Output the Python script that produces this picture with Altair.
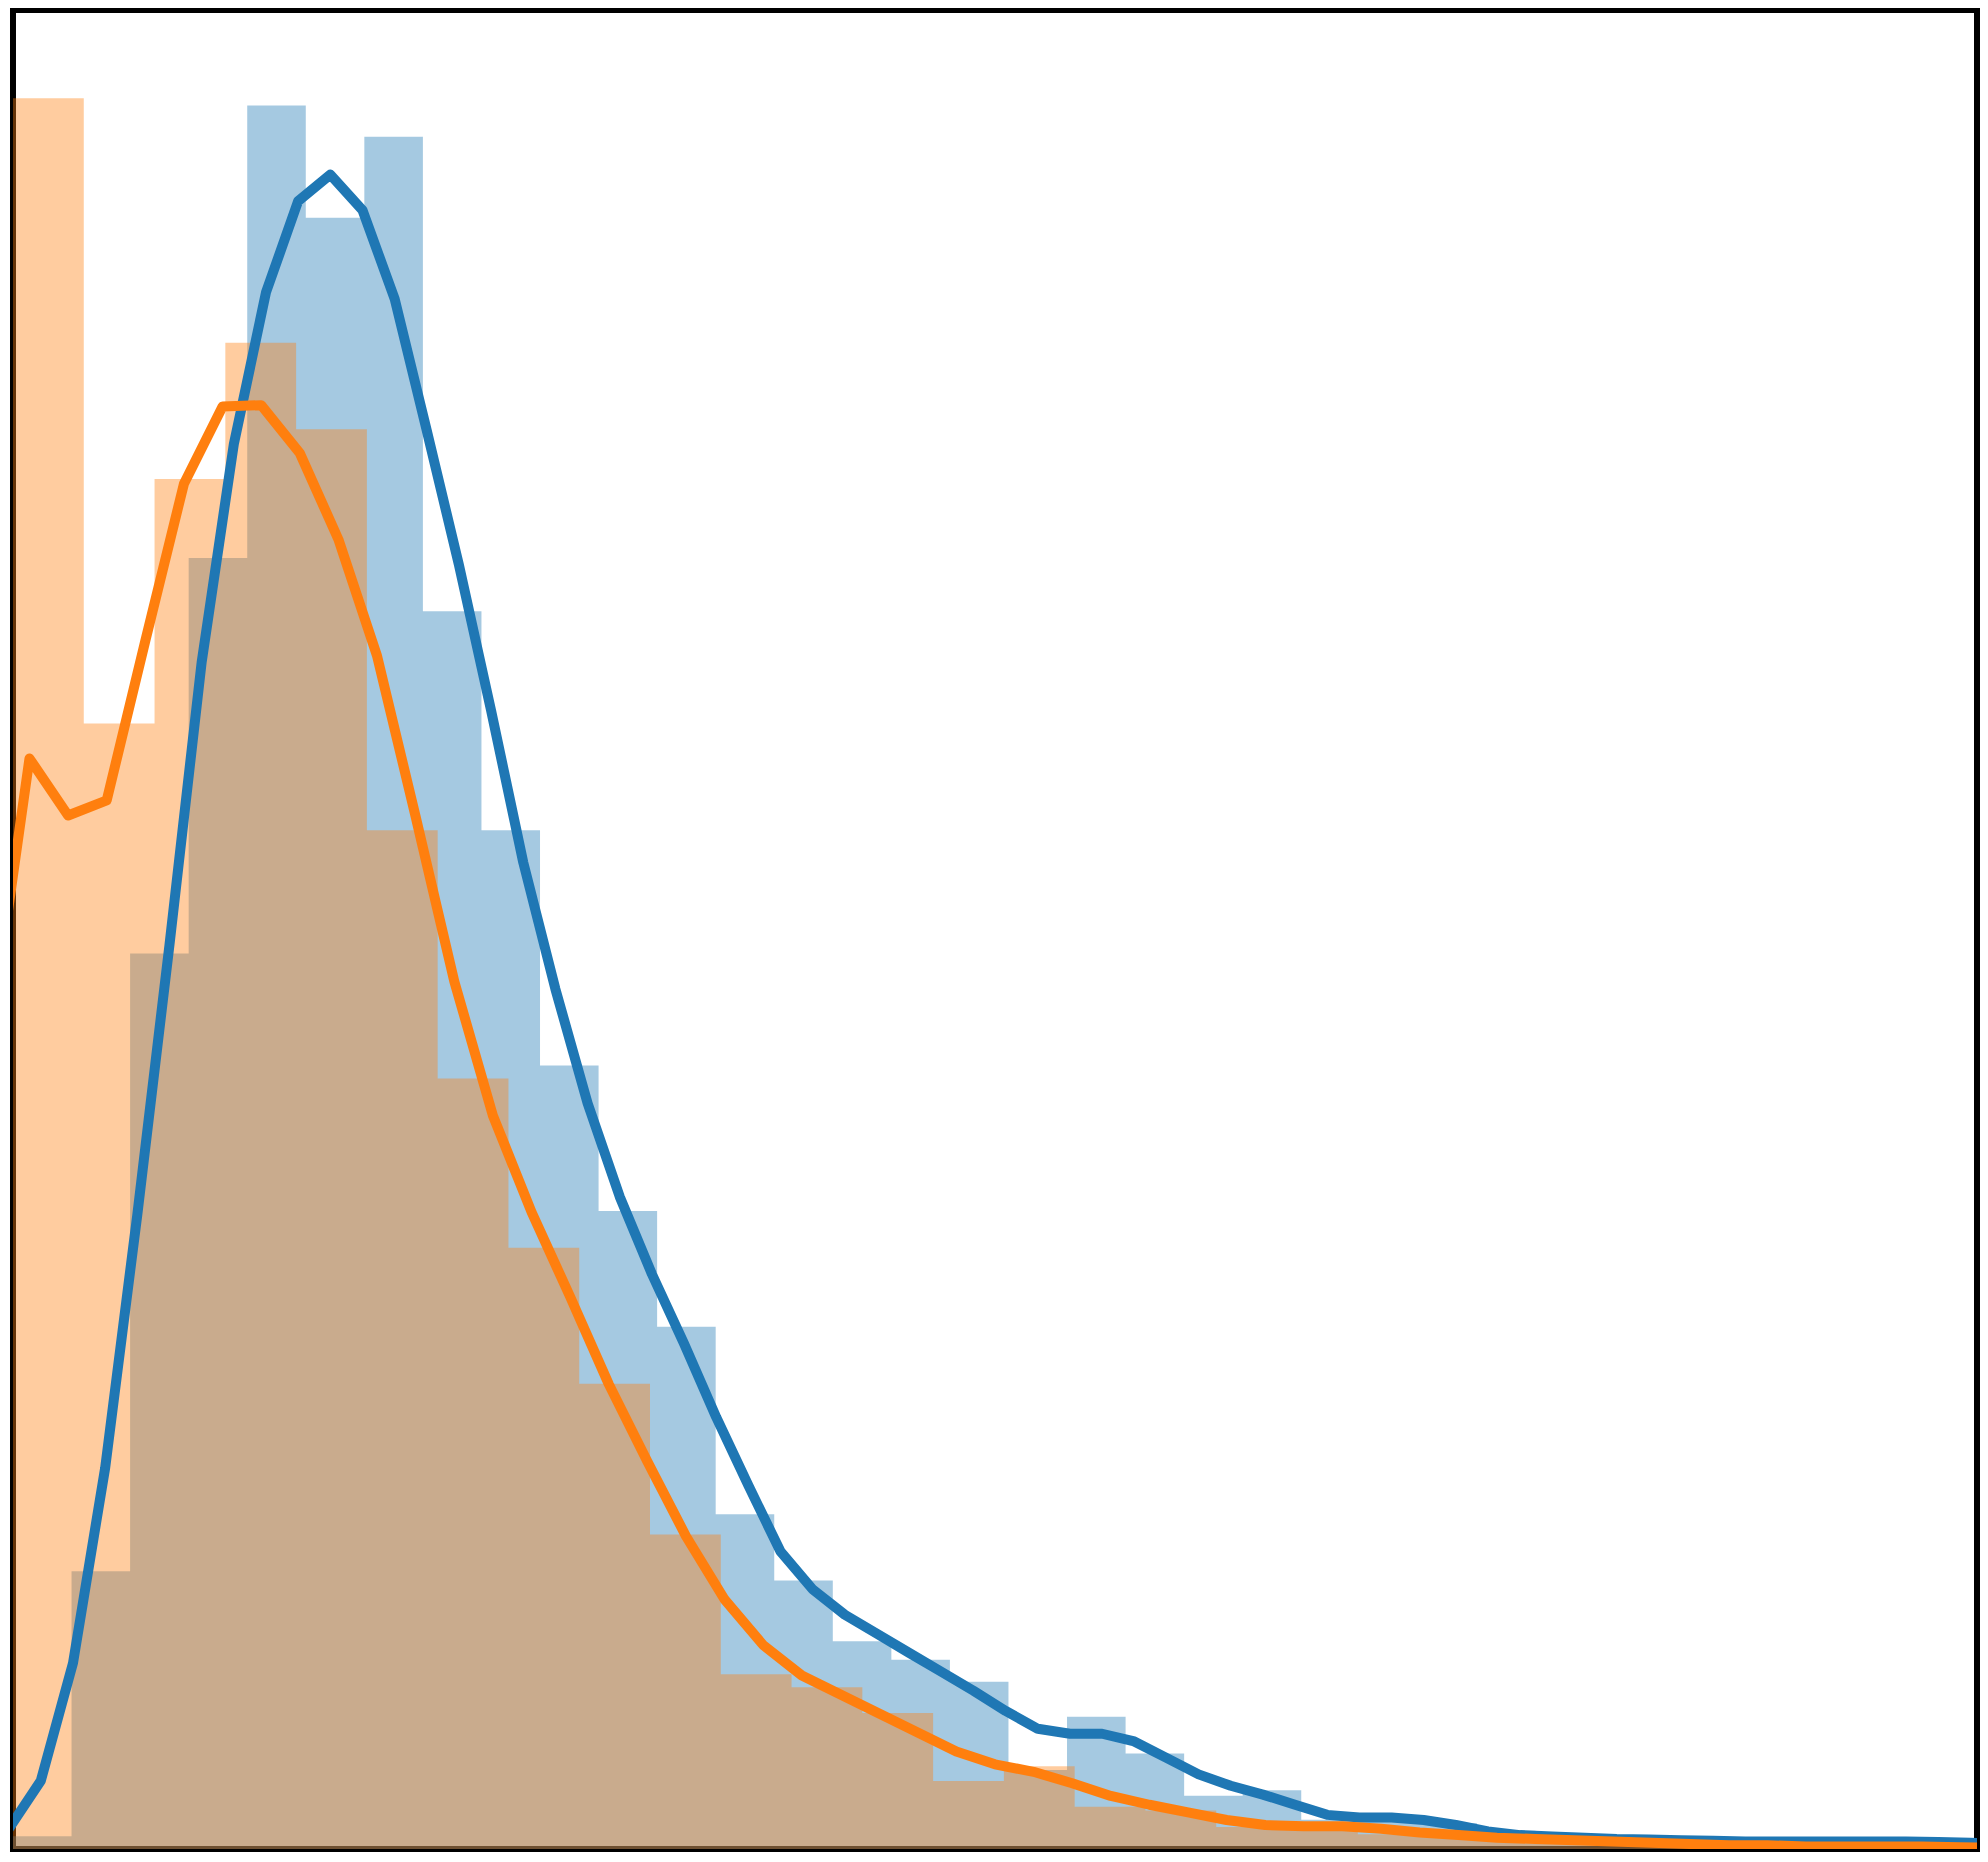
import altair as alt
import pandas as pd

BLUE = "#1f77b4"
ORANGE = "#ff7f0e"

# histogram bins (x in units of the blue bin width, starting at the left frame edge)
blue_bin_width = 1.0
orange_bin_width = 1.2087
blue_hist = [0.7, 15.1, 48.7, 70.2, 94.8, 88.7, 93.1, 67.3, 55.4, 42.6, 34.7, 28.4,
             18.2, 14.6, 11.3, 10.3, 9.1, 4.3, 7.2, 5.2, 2.9, 3.2, 1.6, 1.5, 1.4,
             1.0, 0.5, 0.3, 0.3, 0.2, 0.1, 0.1, 0.1, 0.1]
orange_hist = [95.2, 61.2, 74.5, 81.9, 77.2, 55.4, 41.9, 32.7, 25.3, 17.1, 9.5, 8.8,
               7.4, 3.7, 4.5, 2.3, 2.1, 1.2, 1.1, 0.8, 0.6, 0.5, 0.3, 0.3, 0.2, 0.1,
               0.1, 0.1]

# density curves evaluated on a regular grid
blue_kde_start, blue_kde_step = -0.0735, 0.5492
blue_kde = [1.10, 3.72, 10.12, 20.73, 34.50, 49.17, 64.53, 76.38, 84.64, 89.60, 91.05,
            89.12, 84.30, 77.13, 69.83, 61.91, 53.65, 46.76, 40.56, 35.47, 31.27,
            27.48, 23.48, 19.77, 16.18, 14.12, 12.74, 11.71, 10.67, 9.64, 8.61, 7.51,
            6.54, 6.27, 6.27, 5.85, 4.96, 4.06, 3.44, 2.96, 2.41, 1.86, 1.72, 1.72,
            1.58, 1.31, 0.96, 0.76, 0.69, 0.62, 0.55, 0.52, 0.48, 0.45, 0.41, 0.41,
            0.41, 0.41, 0.41, 0.41, 0.38, 0.34, 0.28]
orange_kde_start, orange_kde_step = -0.378, 0.6595
orange_kde = [44.42, 59.30, 56.20, 57.02, 65.70, 74.24, 78.44, 78.51, 75.90, 71.21,
              64.88, 56.13, 47.18, 39.88, 34.64, 30.03, 25.28, 21.07, 17.01, 13.57,
              11.09, 9.44, 8.40, 7.37, 6.34, 5.30, 4.61, 4.20, 3.58, 2.89, 2.41, 2.00,
              1.58, 1.31, 1.24, 1.24, 1.10, 0.90, 0.76, 0.62, 0.55, 0.48, 0.41, 0.34,
              0.28, 0.21, 0.21, 0.14, 0.14, 0.14, 0.14, 0.10, 0.07]

x_domain = [0, 33.54]
y_domain = [0, 100]


def hist_frame(values, width):
    # step outline: one point per bin start, plus the closing edge of the last bin
    n = len(values)
    return pd.DataFrame({
        "x": [i * width for i in range(n + 1)],
        "h": list(values) + [values[-1]],
        "base": [0.0] * (n + 1),
    })


def kde_frame(values, start, step):
    return pd.DataFrame({
        "x": [start + i * step for i in range(len(values))],
        "y": values,
    })


xs = alt.Scale(domain=x_domain, nice=False, zero=False)
ys = alt.Scale(domain=y_domain, nice=False, zero=False)


def bars(df, color):
    return alt.Chart(df).mark_area(
        color=color, fillOpacity=0.4, clip=True, interpolate="step-after"
    ).encode(
        x=alt.X("x:Q", scale=xs, axis=None),
        y=alt.Y("h:Q", scale=ys, axis=None, stack=None),
        y2=alt.Y2("base:Q"),
    )


def curve(df, color):
    return alt.Chart(df).mark_line(
        color=color, strokeWidth=10, clip=True, strokeJoin="round", strokeCap="butt"
    ).encode(
        x=alt.X("x:Q", scale=xs, axis=None),
        y=alt.Y("y:Q", scale=ys, axis=None),
        order=alt.Order("x:Q"),
    )


chart = alt.layer(
    bars(hist_frame(blue_hist, blue_bin_width), BLUE),
    bars(hist_frame(orange_hist, orange_bin_width), ORANGE),
    curve(kde_frame(blue_kde, blue_kde_start, blue_kde_step), BLUE),
    curve(kde_frame(orange_kde, orange_kde_start, orange_kde_step), ORANGE),
).properties(
    width=1966,
    height=1841,
    padding={"left": 5, "top": 1, "right": 3, "bottom": 3},
    autosize=alt.AutoSizeParams(type="none"),
    background="white",
).configure_view(
    stroke="black",
    strokeWidth=6,
)

chart.save("out.html", embed_options={"renderer": "svg", "actions": False})
